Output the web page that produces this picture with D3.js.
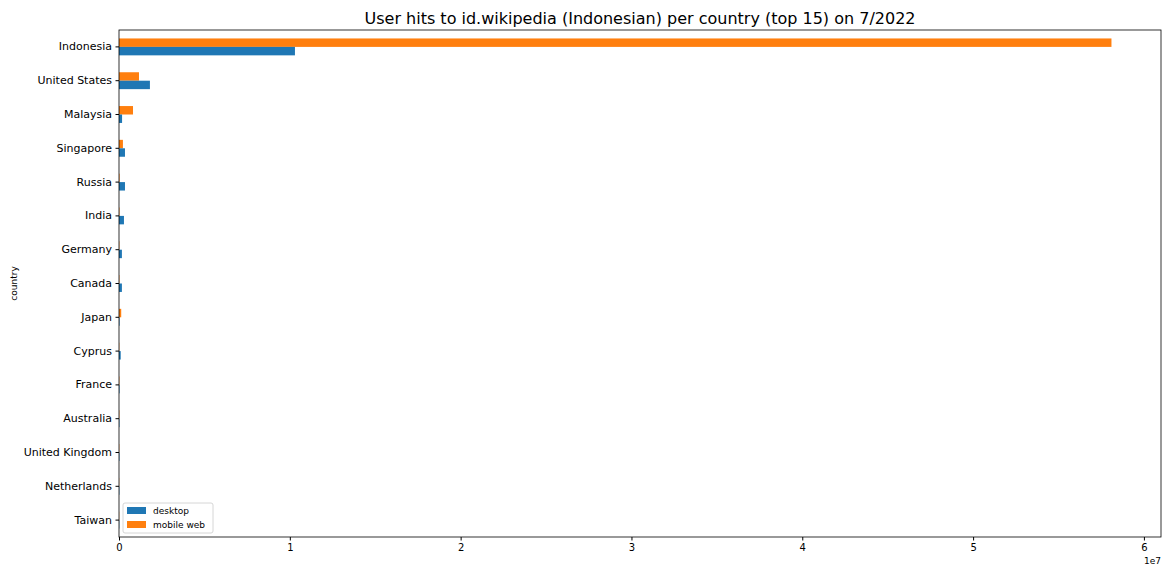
<!DOCTYPE html>
<html>
<head>
<meta charset="utf-8">
<script src="https://cdn.jsdelivr.net/npm/d3@7"></script>
<style>
  html, body { margin: 0; padding: 0; background: #fff; }
  svg { display: block; font-family: "DejaVu Sans", sans-serif; }
</style>
</head>
<body>
<svg id="chart" width="1162" height="566"></svg>
<script>
// Countries, ordered top to bottom
const countries = ["Indonesia", "United States", "Malaysia", "Singapore", "Russia", "India",
  "Germany", "Canada", "Japan", "Cyprus", "France", "Australia", "United Kingdom", "Netherlands", "Taiwan"];
// Monthly hits per access method
const desktop   = [10300000, 1810000, 180000, 350000, 350000, 290000, 170000, 170000, 30000, 100000, 30000, 25000, 25000, 20000, 15000];
const mobileWeb = [58100000, 1170000, 820000, 230000, 30000, 25000, 20000, 20000, 130000, 15000, 20000, 20000, 15000, 10000, 10000];
const xTicks = [0, 1e7, 2e7, 3e7, 4e7, 5e7, 6e7];
const seriesNames = ["desktop", "mobile web"];
const colors = ["#1f77b4", "#ff7f0e"];

const svg = d3.select("#chart");
const m = { left: 119, right: 1161, top: 30, bottom: 537 };

const x = d3.scaleLinear().domain([0, 6.1e7]).range([m.left, m.right]);
const y = d3.scaleBand().domain(countries).range([m.top, m.bottom]).padding(0);
const bh = y.bandwidth() * 0.25;

const g = svg.append("g");
// mobile web above the band centre, desktop below
g.selectAll("rect.mobile").data(countries).join("rect")
  .attr("class", "mobile")
  .attr("x", x(0))
  .attr("y", d => y(d) + y.bandwidth() / 2 - bh)
  .attr("width", (d, i) => x(mobileWeb[i]) - x(0))
  .attr("height", bh)
  .attr("fill", colors[1]);
g.selectAll("rect.desktop").data(countries).join("rect")
  .attr("class", "desktop")
  .attr("x", x(0))
  .attr("y", d => y(d) + y.bandwidth() / 2)
  .attr("width", (d, i) => x(desktop[i]) - x(0))
  .attr("height", bh)
  .attr("fill", colors[0]);

// Axes
const xAxis = d3.axisBottom(x).tickValues(xTicks).tickFormat(d => d / 1e7).tickSize(3.5).tickPadding(3);
svg.append("g").attr("transform", `translate(0,${m.bottom})`).call(xAxis)
  .call(a => a.select(".domain").remove())
  .selectAll("text").attr("font-size", 10).attr("fill", "#000").attr("font-family", "DejaVu Sans");

const yAxis = d3.axisLeft(y).tickSize(3.5).tickPadding(3.5);
svg.append("g").attr("transform", `translate(${m.left},0)`).call(yAxis)
  .call(a => a.select(".domain").remove())
  .selectAll("text").attr("font-size", 11).attr("fill", "#000").attr("font-family", "DejaVu Sans");

// Frame
svg.append("rect").attr("x", m.left).attr("y", m.top)
  .attr("width", m.right - m.left).attr("height", m.bottom - m.top)
  .attr("fill", "none").attr("stroke", "#000").attr("stroke-width", 0.8);

// Title and labels
svg.append("text").attr("x", (m.left + m.right) / 2).attr("y", 24)
  .attr("text-anchor", "middle").attr("font-size", 16)
  .text("User hits to id.wikipedia (Indonesian) per country (top 15) on 7/2022");
svg.append("text").attr("transform", `translate(17,${(m.top + m.bottom) / 2}) rotate(-90)`)
  .attr("text-anchor", "middle").attr("font-size", 9).text("country");
svg.append("text").attr("x", m.right).attr("y", 564).attr("text-anchor", "end")
  .attr("font-size", 9).text("1e7");

// Legend
const lg = svg.append("g").attr("transform", "translate(123,503)");
lg.append("rect").attr("width", 90).attr("height", 30).attr("rx", 2)
  .attr("fill", "#fff").attr("fill-opacity", 0.8).attr("stroke", "#ccc").attr("stroke-width", 0.8);
seriesNames.forEach((s, i) => {
  lg.append("rect").attr("x", 4).attr("y", 4 + i * 14).attr("width", 19).attr("height", 7).attr("fill", colors[i]);
  lg.append("text").attr("x", 30).attr("y", 11 + i * 14).attr("font-size", 9).text(s);
});
</script>
</body>
</html>
